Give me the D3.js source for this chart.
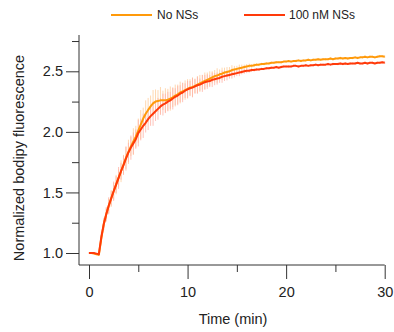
<!DOCTYPE html>
<html>
<head>
<meta charset="utf-8">
<script src="https://cdn.jsdelivr.net/npm/d3@7"></script>
<style>
  html, body { margin: 0; padding: 0; background: #fff; }
  svg { display: block; font-family: "Liberation Sans", Arial, sans-serif; }
</style>
</head>
<body>
<svg id="chart" width="394" height="332"></svg>
<script>
// ---- Data (time in minutes, step 0.25 min) ----
const timeStart = 0, timeStep = 0.25;
const seriesNames = ["No NSs", "100 nM NSs"];
const xTickValues = [0, 10, 20, 30];
const xMinorTicks = [5, 15, 25];
const yTickValues = [1.0, 1.5, 2.0, 2.5];
const yMinorTicks = [1.25, 1.75, 2.25, 2.75];

const noNSs = [
  1.00,1.00,0.995,0.99,0.985,1.12,1.24,1.32,
  1.39,1.45,1.51,1.565,1.62,1.675,1.73,1.785,
  1.835,1.88,1.92,1.96,2.01,2.06,2.11,2.15,
  2.18,2.21,2.235,2.25,2.255,2.26,2.26,2.26,
  2.265,2.275,2.285,2.30,2.31,2.325,2.335,2.345,
  2.355,2.365,2.37,2.38,2.39,2.40,2.41,2.42,
  2.43,2.44,2.45,2.46,2.465,2.475,2.48,2.49,
  2.495,2.50,2.51,2.515,2.52,2.525,2.53,2.535,
  2.54,2.545,2.545,2.55,2.555,2.555,2.56,2.56,
  2.565,2.565,2.57,2.57,2.575,2.575,2.575,2.58,
  2.58,2.585,2.58,2.585,2.585,2.59,2.585,2.59,
  2.59,2.595,2.59,2.595,2.595,2.60,2.595,2.60,
  2.60,2.60,2.605,2.60,2.605,2.605,2.61,2.605,
  2.61,2.605,2.61,2.61,2.615,2.61,2.615,2.615,
  2.62,2.615,2.62,2.62,2.615,2.62,2.625,2.625,
  2.62
];
const noNSsErr = [
  .005,.005,.005,.005,.01,.03,.04,.05,
  .06,.07,.07,.08,.07,.09,.08,.09,
  .10,.08,.11,.09,.10,.12,.09,.11,
  .10,.09,.11,.10,.09,.11,.08,.10,
  .09,.10,.08,.09,.08,.09,.07,.08,
  .08,.07,.08,.06,.07,.07,.06,.07,
  .06,.06,.05,.05,.06,.04,.05,.04,
  .04,.035,.04,.03,.025,.03,.025,.02,
  .02,.018,.015,.015,.012,.012,.01,.01,
  .01,.008,.01,.008,.01,.008,.01,.008,
  .01,.008,.01,.008,.01,.008,.01,.008,
  .008,.01,.008,.01,.008,.01,.008,.01,
  .01,.008,.01,.008,.01,.008,.01,.008,
  .008,.01,.008,.01,.008,.01,.008,.01,
  .01,.008,.01,.008,.01,.008,.01,.008,
  .01
];
const nm100NSs = [
  1.00,1.00,1.00,0.995,0.99,1.13,1.24,1.32,
  1.39,1.45,1.51,1.565,1.62,1.675,1.725,1.78,
  1.83,1.87,1.905,1.94,1.99,2.02,2.05,2.075,
  2.105,2.13,2.15,2.17,2.19,2.21,2.225,2.235,
  2.25,2.26,2.275,2.29,2.30,2.315,2.325,2.34,
  2.35,2.36,2.365,2.375,2.385,2.39,2.40,2.41,
  2.415,2.42,2.43,2.435,2.44,2.445,2.455,2.46,
  2.465,2.47,2.475,2.48,2.485,2.49,2.495,2.50,
  2.505,2.505,2.51,2.51,2.515,2.515,2.52,2.52,
  2.525,2.525,2.53,2.53,2.535,2.53,2.535,2.54,
  2.54,2.54,2.54,2.545,2.545,2.54,2.545,2.545,
  2.55,2.545,2.55,2.55,2.555,2.55,2.555,2.555,
  2.555,2.56,2.555,2.56,2.56,2.56,2.565,2.56,
  2.565,2.56,2.565,2.565,2.565,2.57,2.565,2.565,
  2.57,2.565,2.57,2.57,2.565,2.57,2.57,2.575,
  2.57
];
const nm100NSsErr = [
  .005,.005,.005,.005,.01,.04,.05,.06,
  .07,.06,.08,.07,.09,.07,.08,.10,
  .08,.10,.09,.08,.11,.09,.10,.08,
  .09,.08,.10,.08,.09,.07,.09,.08,
  .08,.07,.09,.07,.08,.07,.08,.06,
  .07,.06,.08,.06,.07,.05,.07,.06,
  .06,.05,.06,.05,.05,.04,.05,.04,
  .04,.03,.035,.03,.025,.03,.02,.02,
  .02,.015,.015,.012,.012,.01,.01,.01,
  .01,.008,.01,.008,.01,.008,.01,.008,
  .008,.01,.008,.01,.008,.01,.008,.01,
  .01,.008,.01,.008,.01,.008,.01,.008,
  .008,.01,.008,.01,.008,.01,.008,.01,
  .01,.008,.01,.008,.01,.008,.01,.008,
  .008,.01,.008,.01,.008,.01,.008,.01,
  .01
];

// ---- Layout ----
const svg = d3.select("#chart");
const axisX = 79, axisY = 265, axisTop = 35;
const x = d3.scaleLinear().domain([0, 30]).range([89, 384.7]);
const y = d3.scaleLinear().domain([1.0, 2.5]).range([253, 71.3]);
const fontSize = 14.5;
const axisColor = "#333";
const textColor = "#222";

const series = [
  { name: seriesNames[0], values: noNSs, err: noNSsErr, color: "#ff9a0a", errColor: "#ffcf9e" },
  { name: seriesNames[1], values: nm100NSs, err: nm100NSsErr, color: "#ff3a0a", errColor: "#ffb4a8" }
];
series.forEach(s => {
  s.points = s.values.map((v, i) => ({ t: timeStart + i * timeStep, v, e: s.err[i] }));
});

// error bars
series.forEach(s => {
  svg.append("g").selectAll("line").data(s.points).join("line")
    .attr("x1", d => x(d.t)).attr("x2", d => x(d.t))
    .attr("y1", d => y(d.v - d.e)).attr("y2", d => y(d.v + d.e))
    .attr("stroke", s.errColor).attr("stroke-width", 1).attr("opacity", 0.8);
});

// lines
const line = d3.line().x(d => x(d.t)).y(d => y(d.v));
series.forEach(s => {
  svg.append("path").datum(s.points)
    .attr("d", line).attr("fill", "none")
    .attr("stroke", s.color).attr("stroke-width", 2)
    .attr("stroke-linejoin", "round");
});

// ---- Axes ----
function styleAxis(g) {
  g.select(".domain").remove();
  g.selectAll(".tick line").attr("stroke", axisColor);
  g.selectAll(".tick text").attr("fill", textColor)
    .attr("font-size", fontSize).attr("font-family", "Liberation Sans, Arial, sans-serif");
}
// y axis
const gy = svg.append("g").attr("transform", `translate(${axisX},0)`)
  .call(d3.axisLeft(y).tickValues(yTickValues).tickFormat(d3.format(".1f")).tickSize(13).tickPadding(3));
styleAxis(gy);
const gyMinor = svg.append("g").attr("transform", `translate(${axisX},0)`)
  .call(d3.axisLeft(y).tickValues(yMinorTicks).tickFormat("").tickSize(7));
styleAxis(gyMinor);
// x axis
const gx = svg.append("g").attr("transform", `translate(0,${axisY})`)
  .call(d3.axisBottom(x).tickValues(xTickValues).tickFormat(d3.format("d")).tickSize(14).tickPadding(8));
styleAxis(gx);
const gxMinor = svg.append("g").attr("transform", `translate(0,${axisY})`)
  .call(d3.axisBottom(x).tickValues(xMinorTicks).tickFormat("").tickSize(7));
styleAxis(gxMinor);

svg.append("line").attr("x1", axisX).attr("x2", axisX).attr("y1", axisTop).attr("y2", axisY)
  .attr("stroke", axisColor).attr("stroke-width", 1);
svg.append("line").attr("x1", axisX).attr("x2", x(30)).attr("y1", axisY).attr("y2", axisY)
  .attr("stroke", axisColor).attr("stroke-width", 1);

// axis titles
svg.append("text").attr("x", 233).attr("y", 323.5).attr("text-anchor", "middle")
  .attr("font-size", fontSize).attr("fill", textColor).text("Time (min)");
svg.append("text").attr("transform", "translate(24,158) rotate(-90)").attr("text-anchor", "middle")
  .attr("font-size", fontSize).attr("fill", textColor).text("Normalized bodipy fluorescence");

// legend
const legendPos = [{ x1: 111, x2: 152, tx: 157 }, { x1: 244, x2: 285, tx: 289 }];
series.forEach((s, i) => {
  const p = legendPos[i];
  svg.append("line").attr("x1", p.x1).attr("x2", p.x2).attr("y1", 15).attr("y2", 15)
    .attr("stroke", s.color).attr("stroke-width", 2);
  svg.append("text").attr("x", p.tx).attr("y", 19.3).attr("font-size", 12)
    .attr("fill", textColor).text(s.name);
});
</script>
</body>
</html>
